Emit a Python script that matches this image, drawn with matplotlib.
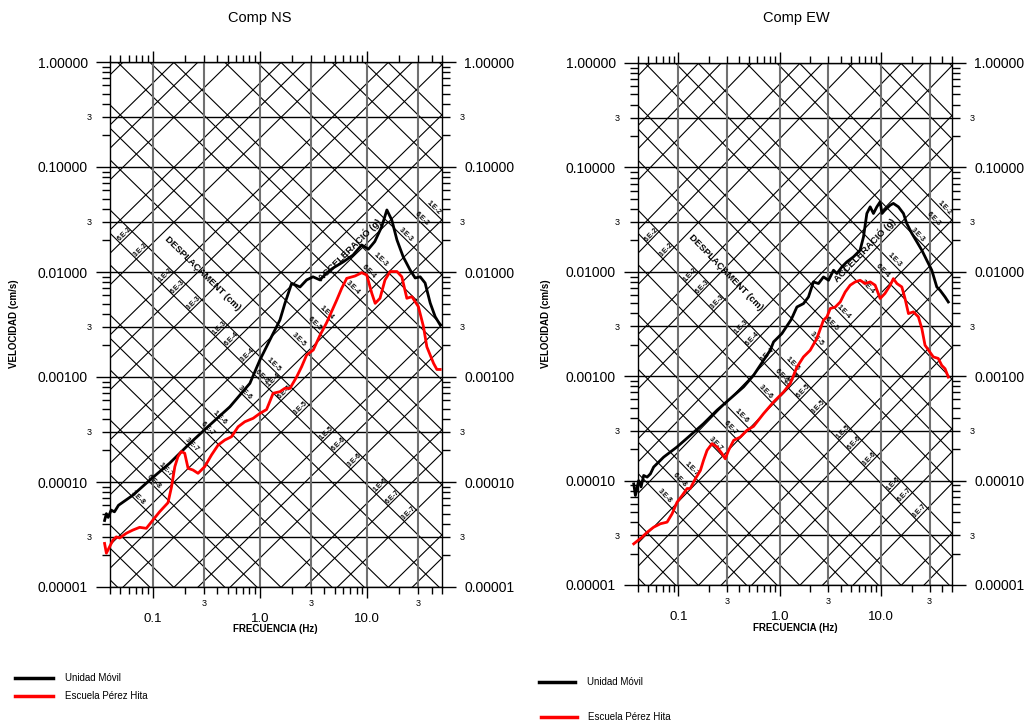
import numpy as np
import matplotlib
matplotlib.use('Agg')
import matplotlib.pyplot as plt
from matplotlib.lines import Line2D
from matplotlib.ticker import FixedLocator, FixedFormatter

plt.rcParams['font.family'] = ['Liberation Sans', 'DejaVu Sans']

# ---------------- data ----------------
titles = ['Comp NS', 'Comp EW']
series_names = ['Unidad Móvil', 'Escuela Pérez Hita']

ns_movil_f = [0.0356, 0.037, 0.0385, 0.041, 0.044, 0.048, 0.0655, 0.0937, 0.144, 0.222, 0.341, 0.525,
              0.807, 1.0, 1.33, 1.43, 1.54, 1.71, 1.98, 2.37, 2.73, 3.13, 3.64, 4.2, 4.81, 5.97,
              7.4, 8.9, 10.3, 11.8, 13.7, 15.3, 17.0, 19.0, 21.7, 25.2, 28.1, 31.3, 34.8, 38.8,
              43.2, 48.1]
ns_movil_v = [4.3e-5, 5.0e-5, 4.6e-5, 5.4e-5, 5.2e-5, 6.0e-5, 7.5e-5, 1.04e-4, 1.51e-4, 2.33e-4,
              3.49e-4, 5.2e-4, 8.7e-4, 1.45e-3, 2.6e-3, 3.0e-3, 3.5e-3, 5.0e-3, 7.8e-3, 7.2e-3,
              8.4e-3, 9.0e-3, 8.4e-3, 9.8e-3, 1.09e-2, 1.245e-2, 1.45e-2, 1.81e-2, 1.65e-2,
              1.95e-2, 2.7e-2, 3.9e-2, 3.13e-2, 2.02e-2, 1.4e-2, 1.045e-2, 8.77e-3, 9.0e-3,
              7.85e-3, 5.07e-3, 3.75e-3, 3.13e-3]

ns_escuela_f = [0.0356, 0.037, 0.0397, 0.0426, 0.0458, 0.0492, 0.0568, 0.0655, 0.0756, 0.0873,
                0.1007, 0.116, 0.139, 0.150, 0.161, 0.172, 0.185, 0.199, 0.214, 0.238, 0.265,
                0.306, 0.354, 0.408, 0.471, 0.544, 0.627, 0.724, 0.865, 1.0, 1.155, 1.33, 1.54,
                1.71, 1.91, 2.2, 2.45, 2.73, 3.15, 3.64, 4.2, 5.21, 5.8, 6.46, 7.72, 8.92, 9.93,
                11.07, 11.9, 13.2, 14.7, 16.4, 19.0, 21.1, 23.5, 26.2, 30.1, 33.6, 36.1, 41.7,
                44.8, 48.1]
ns_escuela_v = [2.6e-5, 2.1e-5, 2.42e-5, 2.8e-5, 3.0e-5, 2.93e-5, 3.25e-5, 3.49e-5, 3.7e-5,
                3.62e-5, 4.35e-5, 5.2e-5, 6.35e-5, 9.0e-5, 1.4e-4, 1.74e-4, 1.95e-4, 1.88e-4,
                1.35e-4, 1.3e-4, 1.21e-4, 1.4e-4, 1.81e-4, 2.25e-4, 2.51e-4, 2.7e-4, 3.36e-4,
                3.75e-4, 4.04e-4, 4.5e-4, 4.9e-4, 7.0e-4, 7.25e-4, 7.8e-4, 7.8e-4, 1.0e-3,
                1.25e-3, 1.62e-3, 1.81e-3, 2.5e-3, 3.3e-3, 5.4e-3, 7.0e-3, 8.7e-3, 9.16e-3,
                9.85e-3, 9.36e-3, 6.27e-3, 5.03e-3, 5.62e-3, 8.4e-3, 1.01e-2, 1.01e-2, 9.0e-3,
                5.62e-3, 5.82e-3, 4.68e-3, 3.01e-3, 1.94e-3, 1.35e-3, 1.18e-3, 1.18e-3]

ew_movil_f = [0.0363, 0.0377, 0.0406, 0.0429, 0.0455, 0.0492, 0.053, 0.0571, 0.0717, 0.097,
              0.131, 0.177, 0.240, 0.325, 0.44, 0.552, 0.692, 0.805, 0.869, 1.05, 1.3, 1.476,
              1.714, 1.92, 2.15, 2.41, 2.7, 3.03, 3.39, 3.66, 4.1, 4.59, 5.33, 6.2, 6.7, 7.23,
              7.8, 8.4, 9.07, 9.78, 10.2, 10.9, 12.3, 13.2, 14.8, 16.6, 17.9, 20.1, 22.5, 25.2,
              28.2, 31.6, 35.4, 38.1, 42.7, 46.0]
ew_movil_v = [9.3e-5, 7.2e-5, 1.0e-4, 8.7e-5, 1.12e-4, 1.08e-4, 1.16e-4, 1.35e-4, 1.68e-4,
              2.1e-4, 2.71e-4, 3.51e-4, 4.71e-4, 6.1e-4, 7.9e-4, 1.02e-3, 1.42e-3, 1.77e-3,
              2.13e-3, 2.56e-3, 3.5e-3, 4.6e-3, 4.96e-3, 5.74e-3, 8.0e-3, 7.72e-3, 8.93e-3,
              8.3e-3, 1.035e-2, 9.63e-3, 1.114e-2, 1.245e-2, 1.39e-2, 1.61e-2, 2.16e-2, 3.62e-2,
              4.19e-2, 3.62e-2, 4.19e-2, 4.68e-2, 3.62e-2, 3.9e-2, 4.35e-2, 4.52e-2, 4.19e-2,
              3.62e-2, 2.9e-2, 2.33e-2, 1.94e-2, 1.61e-2, 1.29e-2, 1.035e-2, 7.16e-3, 6.66e-3,
              5.74e-3, 5.14e-3]

ew_escuela_f = [0.0363, 0.0438, 0.0492, 0.0571, 0.0665, 0.0774, 0.0867, 0.097, 0.109, 0.122,
                0.131, 0.147, 0.165, 0.177, 0.192, 0.215, 0.240, 0.27, 0.29, 0.313, 0.351, 0.408,
                0.475, 0.552, 0.692, 0.869, 1.09, 1.27, 1.476, 1.714, 1.995, 2.32, 2.7, 2.92,
                3.15, 3.53, 3.95, 4.42, 4.95, 5.54, 6.2, 6.95, 7.8, 8.73, 9.78, 10.9, 12.3, 13.2,
                14.3, 16.0, 17.2, 18.6, 20.8, 23.3, 25.2, 27.1, 32.7, 36.6, 39.6, 42.7, 46.0]
ew_escuela_v = [2.48e-5, 2.87e-5, 3.2e-5, 3.58e-5, 3.86e-5, 4.0e-5, 4.8e-5, 6.2e-5, 7.2e-5,
                8.4e-5, 8.4e-5, 1.04e-4, 1.25e-4, 1.56e-4, 1.95e-4, 2.26e-4, 2.1e-4, 1.81e-4,
                1.62e-4, 1.95e-4, 2.43e-4, 2.61e-4, 3.03e-4, 3.31e-4, 4.38e-4, 5.66e-4, 7.06e-4,
                8.5e-4, 1.22e-3, 1.53e-3, 1.77e-3, 2.29e-3, 3.44e-3, 3.7e-3, 4.45e-3, 4.6e-3,
                5.14e-3, 6.4e-3, 7.44e-3, 8.0e-3, 8.3e-3, 7.72e-3, 8.0e-3, 7.44e-3, 5.55e-3,
                6.2e-3, 7.44e-3, 8.6e-3, 7.72e-3, 7.16e-3, 5.55e-3, 3.98e-3, 4.13e-3, 3.7e-3,
                2.86e-3, 1.98e-3, 1.53e-3, 1.48e-3, 1.27e-3, 1.18e-3, 9.8e-4]

y_major = [1e-5, 1e-4, 1e-3, 1e-2, 1e-1, 1.0]
y_major_labels = ['0.00001', '0.00010', '0.00100', '0.01000', '0.10000', '1.00000']
x_major = [0.1, 1.0, 10.0]
x_major_labels = ['0.1', '1.0', '10.0']
grid_h = [1e-5, 3e-5, 1e-4, 3e-4, 1e-3, 3e-3, 1e-2, 3e-2, 1e-1, 3e-1, 1.0]
grid_v = [0.1, 0.3, 1.0, 3.0, 10.0, 30.0]
diag_mantissas = [1, 3, 6]
diag_exponents = list(range(-10, 3))

# ---------------- layout ----------------
W, H = 1029, 725
fig = plt.figure(figsize=(W / 100, H / 100), dpi=100)


def fx(px):
    return px / W


def fy(py):
    return 1 - py / H


XMIN, XMAX = 0.04, 50.0
YMIN, YMAX = 1e-5, 1.0
G = 981.0
cD = np.log10(2 * np.pi)
cA = np.log10(G / (2 * np.pi))


def lab(m, e):
    return f"{m}.E{e}"


def setup(ax, axbox):
    ax.set_xscale('log')
    ax.set_yscale('log')
    ff = np.array([1e-4, 1e4])
    for e in diag_exponents:
        for m in diag_mantissas:
            val = m * 10.0 ** e
            ax.plot(ff, 2 * np.pi * ff * val, color='black', lw=0.8, zorder=1)
            ax.plot(ff, val * G / (2 * np.pi * ff), color='black', lw=0.8, zorder=1)
    for v in grid_h:
        ax.axhline(v, color='black', lw=1.0, zorder=2)
    for v in grid_v:
        ax.axvline(v, color='#707070', lw=1.5, zorder=2)
    ax.set_xlim(XMIN, XMAX)
    ax.set_ylim(YMIN, YMAX)

    u0, u1 = np.log10(XMIN), np.log10(XMAX)
    w0, w1 = np.log10(YMIN), np.log10(YMAX)
    wpx = axbox[2] * W
    hpx = axbox[3] * H
    ang = np.degrees(np.arctan((hpx / (w1 - w0)) / (wpx / (u1 - u0))))
    mg = 0.07
    # displacement labels along a constant-acceleration track
    trackA = -5.1
    for e in diag_exponents:
        for m in diag_mantissas:
            d = np.log10(m) + e + cD
            s = trackA + cA
            u = (s - d) / 2
            w = (s + d) / 2
            if u0 + mg < u < u1 - mg and w0 + mg < w < w1 - mg:
                ax.text(10 ** u, 10 ** w, lab(m, e), rotation=ang, rotation_mode='anchor',
                        ha='center', va='bottom', fontsize=5, fontweight='bold', zorder=3)
    # acceleration labels along a constant-displacement track
    trackD = -3.81
    for e in diag_exponents:
        for m in diag_mantissas:
            s = np.log10(m) + e + cA
            d = trackD + cD
            u = (s - d) / 2
            w = (s + d) / 2
            if u0 + mg < u < u1 - mg and w0 + mg < w < w1 - mg:
                ax.text(10 ** u, 10 ** w, lab(m, e), rotation=-ang, rotation_mode='anchor',
                        ha='center', va='bottom', fontsize=5, fontweight='bold', zorder=3)
    ax.text(0.292, 0.00977, 'DESPLAÇAMENT (cm)', rotation=-ang, rotation_mode='anchor',
            ha='center', va='center', fontsize=6.8, fontweight='heavy', zorder=3)
    ax.text(6.9, 0.0163, 'ACCELERACIÓ (g)', rotation=ang, rotation_mode='anchor',
            ha='center', va='center', fontsize=6.8, fontweight='heavy', zorder=3)

    # ticks
    ax.xaxis.set_major_locator(FixedLocator(x_major))
    ax.xaxis.set_major_formatter(FixedFormatter(x_major_labels))
    xm = [m * 10.0 ** e for e in range(-2, 2) for m in range(2, 10)]
    xm = [v for v in xm if XMIN * 0.999 <= v <= XMAX * 1.001]
    ax.xaxis.set_minor_locator(FixedLocator(xm))
    ax.xaxis.set_minor_formatter(FixedFormatter(
        ['3' if abs(v / 10 ** np.floor(np.log10(v)) - 3) < 1e-6 else '' for v in xm]))
    ax.yaxis.set_major_locator(FixedLocator(y_major))
    ax.yaxis.set_major_formatter(FixedFormatter(y_major_labels))
    ym = [m * 10.0 ** e for e in range(-5, 0) for m in range(2, 10)]
    ax.yaxis.set_minor_locator(FixedLocator(ym))
    ax.yaxis.set_minor_formatter(FixedFormatter(
        ['3' if m == 3 else '' for e in range(-5, 0) for m in range(2, 10)]))
    ax.tick_params(which='both', direction='out', top=True, right=True, labelright=True,
                   color='black', width=1.0)
    ax.tick_params(axis='x', which='major', length=8, labelsize=9.5, pad=11)
    ax.tick_params(axis='x', which='minor', length=5, labelsize=6.5, pad=4)
    ax.tick_params(axis='y', which='major', length=10, labelsize=10, pad=6)
    ax.tick_params(axis='y', which='minor', length=6, labelsize=6.5, pad=7)
    for sp in ax.spines.values():
        sp.set_linewidth(1.0)
        sp.set_color('black')


boxes = [
    [fx(110), fy(587), (442 - 110) / W, (587 - 62) / H],
    [fx(638), fy(585), (952 - 638) / W, (585 - 63) / H],
]
data = [
    (ns_movil_f, ns_movil_v, ns_escuela_f, ns_escuela_v),
    (ew_movil_f, ew_movil_v, ew_escuela_f, ew_escuela_v),
]
for i, box in enumerate(boxes):
    ax = fig.add_axes(box)
    setup(ax, box)
    mf, mv, ef, ev = data[i]
    ax.plot(mf, mv, color='black', lw=2.0, zorder=5, clip_on=False)
    ax.plot(ef, ev, color='#ff0000', lw=2.0, zorder=5, clip_on=False)

# titles and axis labels
fig.text(fx(260), fy(18), titles[0], ha='center', va='center', fontsize=10.5)
fig.text(fx(796), fy(18), titles[1], ha='center', va='center', fontsize=10.5)
fig.text(fx(275), fy(629), 'FRECUENCIA (Hz)', ha='center', va='center', fontsize=7, fontweight='bold')
fig.text(fx(795), fy(628), 'FRECUENCIA (Hz)', ha='center', va='center', fontsize=7, fontweight='bold')
fig.text(fx(14), fy(324), 'VELOCIDAD (cm/s)', ha='center', va='center', rotation=90, fontsize=7,
         fontweight='bold')
fig.text(fx(546), fy(324), 'VELOCIDAD (cm/s)', ha='center', va='center', rotation=90, fontsize=7,
         fontweight='bold')

# legends
leg = [
    ((15, 53, 678), (65, 678), 'black', series_names[0]),
    ((15, 53, 696), (65, 696), '#ff0000', series_names[1]),
    ((539, 575, 682), (587, 682), 'black', series_names[0]),
    ((541, 577, 717), (588, 717), '#ff0000', series_names[1]),
]
for (x0, x1, yl), (tx, ty), col, name in leg:
    fig.add_artist(Line2D([fx(x0), fx(x1)], [fy(yl), fy(yl)], color=col, lw=2.5,
                          transform=fig.transFigure))
    fig.text(fx(tx), fy(ty), name, ha='left', va='center', fontsize=7)

fig.savefig('out.png', dpi=100)
